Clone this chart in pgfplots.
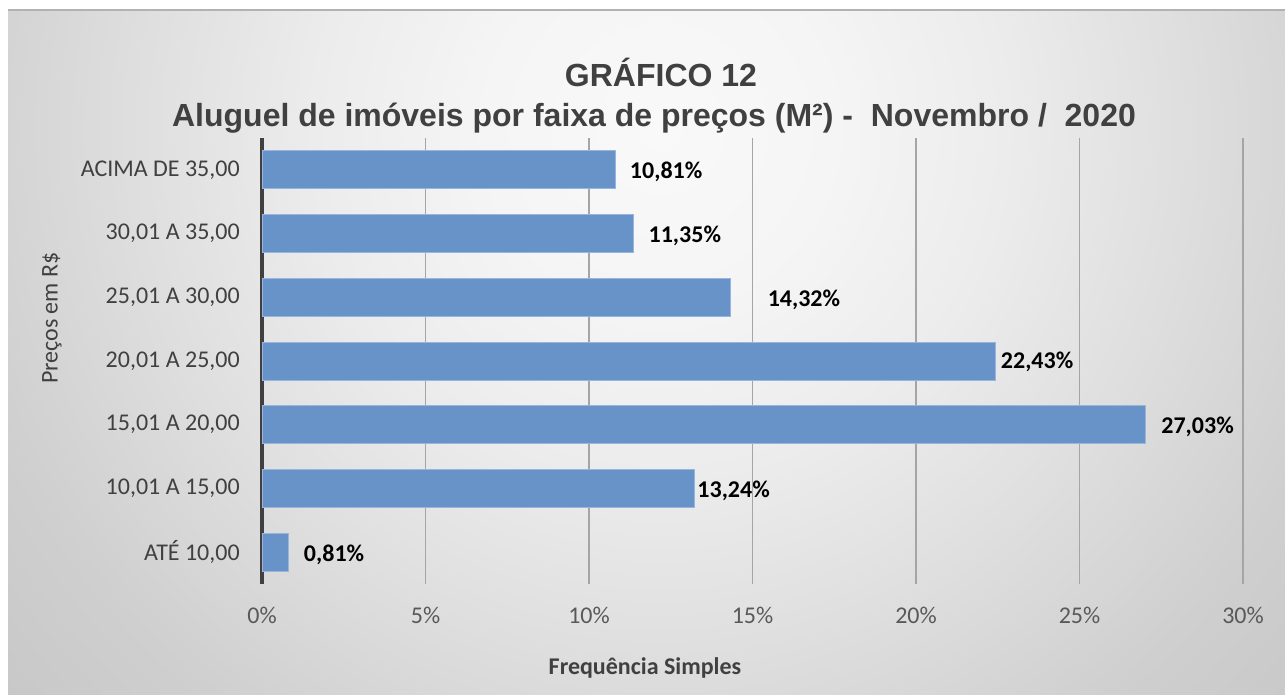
\documentclass[border=0pt]{standalone}
\usepackage{pgfplots}
\usepackage{pgfplotstable}
\pgfplotsset{compat=1.18}
\usepackage{fontspec}
\setmainfont{Carlito}
\newfontfamily\titlefont{Liberation Sans}
\definecolor{barblue}{RGB}{104,147,201}
\definecolor{baredge}{RGB}{150,182,222}
\definecolor{gridgray}{RGB}{165,165,165}
\definecolor{axisdark}{RGB}{64,64,64}
\definecolor{labgray}{RGB}{64,64,64}
\definecolor{tickgray}{RGB}{89,89,89}
\definecolor{bg0}{RGB}{249,249,249}
\definecolor{bg1}{RGB}{245,245,245}
\definecolor{bg2}{RGB}{236,236,236}
\definecolor{bg3}{RGB}{223,223,223}
\definecolor{bg4}{RGB}{207,207,207}
\definecolor{bg5}{RGB}{200,200,200}
\pgfdeclareradialshading{bgrad}{\pgfpoint{0bp}{0bp}}{color(0bp)=(bg0); color(4.8bp)=(bg1); color(9.6bp)=(bg2); color(14.4bp)=(bg3); color(20bp)=(bg4); color(24bp)=(bg5); color(50bp)=(bg5)}

\pgfplotstableread{
y x dx dy
0 0.81 11.25 2.25
1 13.24 1.5 1.5
2 27.03 11.25 1.5
3 22.43 3.75 0.75
4 14.32 27.75 2.25
5 11.35 11.25 1.5
6 10.81 10.5 1.5
}\datatable

\begin{document}
\begin{tikzpicture}
\useasboundingbox (0,0) rectangle (963.75pt,520.5pt);
\fill[white] (0,0) rectangle (963.75pt,520.5pt);
\begin{scope}
\clip (6pt,0) rectangle (963.75pt,513pt);
\fill[bg5] (6pt,0) rectangle (963.75pt,513pt);
\shade[shading=bgrad] (495pt,423pt) circle (675pt);
\end{scope}
\draw[black!30, line width=1.5pt] (6pt,513pt) -- (963.75pt,513pt);

\begin{axis}[
  at={(196.5pt,82.5pt)}, anchor=south west,
  scale only axis, width=735.75pt, height=334.5pt,
  xbar, bar width=28.5pt,
  xmin=0, xmax=30, ymin=-0.5, ymax=6.5,
  xtick={0,5,...,30},
  xticklabels={0\%,5\%,10\%,15\%,20\%,25\%,30\%},
  ytick={0,...,6},
  yticklabels={{ATÉ 10,00},{10,01 A 15,00},{15,01 A 20,00},{20,01 A 25,00},{25,01 A 30,00},{30,01 A 35,00},{ACIMA DE 35,00}},
  xmajorgrids,
  major grid style={gridgray, line width=1.1pt},
  axis x line*=bottom, axis y line*=left,
  x axis line style={draw=none},
  y axis line style={axisdark, line width=2.25pt, -},
  major tick length=0pt, tick style={draw=none},
  xticklabel style={font=\fontsize{18}{20}\selectfont, text=tickgray, anchor=center, inner sep=0pt, yshift=-23.25pt},
  yticklabel style={font=\fontsize{18}{20}\selectfont, text=labgray, anchor=east, inner sep=0pt, xshift=-16.5pt},
  xlabel={\textbf{Frequência Simples}},
  xlabel style={at={(axis description cs:0.3904,-0.188)}, anchor=center, font=\fontsize{18}{20}\selectfont, text=labgray},
  ylabel={Preços em R\$},
  ylabel style={at={(axis description cs:-0.214,0.596)}, anchor=center, rotate=0, font=\fontsize{18}{20}\selectfont, text=labgray},
  point meta=x,
  nodes near coords={\pgfmathprintnumber[fixed,fixed zerofill,precision=2,use comma,assume math mode=true]{\pgfplotspointmeta}\%},
  visualization depends on={\thisrow{dx} \as \dx},
  visualization depends on={\thisrow{dy} \as \dy},
  every node near coord/.append style={font=\bfseries\fontsize{18}{20}\selectfont, text=black, anchor=west, inner sep=0pt, xshift=\dx pt, yshift=-\dy pt},
]
\addplot[fill=barblue, draw=baredge, line width=0.75pt] table[x=x, y=y] {\datatable};
\end{axis}

\node[font=\titlefont\bfseries\fontsize{24}{28}\selectfont, text=labgray] at (495.75pt,466.5pt) {GRÁFICO 12};
\node[font=\titlefont\bfseries\fontsize{24}{28}\selectfont, text=labgray] at (490.5pt,432pt) {Aluguel de imóveis por faixa de preços (M²) -~ Novembro /~ 2020};
\end{tikzpicture}
\end{document}
